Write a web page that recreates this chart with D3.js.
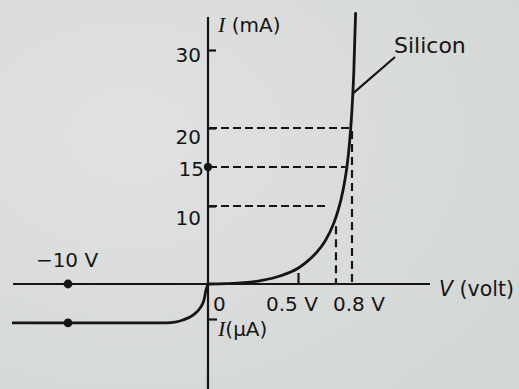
<!DOCTYPE html>
<html>
<head>
<meta charset="utf-8">
<script src="https://cdn.jsdelivr.net/npm/d3@7"></script>
<style>
  html, body { margin: 0; padding: 0; }
  body { width: 519px; height: 389px; overflow: hidden; }
  svg { display: block; }
  text { font-family: "DejaVu Sans", "Liberation Sans", Arial, sans-serif; fill: #151515; }
</style>
</head>
<body>
<svg id="chart" width="519" height="389"></svg>
<script>
// Forward characteristic of a silicon p-n junction diode (V in volts, I in mA)
const forwardVolts = [0, 0.1, 0.2, 0.3, 0.4, 0.5, 0.55, 0.6, 0.65, 0.7, 0.72, 0.74, 0.76, 0.77, 0.78, 0.79, 0.8, 0.81, 0.82];
const forwardCurrent = [0, 0.05, 0.17, 0.47, 1.02, 2.02, 2.87, 3.97, 5.47, 7.87, 9.23, 10.93, 13.23, 14.73, 16.63, 19.13, 22.43, 27.2, 34.7];

// Reverse characteristic (V in volts, I in microamps)
const reverseVolts = [-14, -2.93, -2.36, -1.79, -1.07, -0.57, -0.29, -0.14, 0];
const reverseCurrent = [-1.11, -1.11, -1.09, -1.03, -0.89, -0.69, -0.46, -0.17, 0];

// Axis ticks and labels
const currentTicks = [10, 20, 30];
const markedCurrent = 15;
const voltTicks = [0.5];
const voltLabels = [{ v: 0, text: "0" }, { v: 0.5, text: "0.5 V" }, { v: 0.8, text: "0.8 V" }];
const reverseTicks = [-1];
const reverseMarkVolt = -10;

// Dashed read-off guides: horizontal from the I axis, vertical down to the V axis
const hGuides = [{ i: 20, v: 0.8 }, { i: 15, v: 0.765 }, { i: 10, v: 0.667 }];
const vGuides = [{ v: 0.8, i: 20 }, { v: 0.711, i: 7.8 }];

// Curve name and the curve point its leader starts from
const curveName = "Silicon";
const leaderFrom = { v: 0.804, i: 24.4 };

const svg = d3.select("#chart");
const W = 519, H = 389;
const ink = "#151515";

// Paper background
const defs = svg.append("defs");
const grad = defs.append("radialGradient").attr("id", "paper")
  .attr("cx", "25%").attr("cy", "35%").attr("r", "85%");
grad.append("stop").attr("offset", "0%").attr("stop-color", "#e0e2e1");
grad.append("stop").attr("offset", "100%").attr("stop-color", "#d3d7d6");
svg.append("rect").attr("width", W).attr("height", H).attr("fill", "url(#paper)");

// Scales: forward quadrant in V / mA, reverse quadrant in V / µA
const x0 = 208, y0 = 284;
const xPos = d3.scaleLinear().domain([0, 1]).range([x0, x0 + 180]);
const xNeg = d3.scaleLinear().domain([-14, 0]).range([12, x0]);
const yPos = d3.scaleLinear().domain([0, 30]).range([y0, 50]);
const yNeg = d3.scaleLinear().domain([-1, 0]).range([319, y0]);

// Axis lines
svg.append("line").attr("x1", x0).attr("x2", x0).attr("y1", 17).attr("y2", H)
  .attr("stroke", ink).attr("stroke-width", 2.2);
svg.append("line").attr("x1", 13).attr("x2", 430).attr("y1", y0).attr("y2", y0)
  .attr("stroke", ink).attr("stroke-width", 2.2);

// Current axis ticks (pointing right) with labels on the left
const labelDrop = { 10: 11.5, 15: 1.5, 20: 8, 30: 4.5 };
const yAxis = d3.axisLeft(yPos).tickValues(currentTicks).tickSize(-8).tickPadding(7)
  .tickFormat(d3.format("d"));
const gy = svg.append("g").attr("transform", `translate(${x0},0)`).call(yAxis);
gy.select(".domain").remove();
gy.selectAll(".tick line").attr("stroke", ink).attr("stroke-width", 2.2);
gy.selectAll(".tick text").attr("font-size", 20).attr("dy", null)
  .attr("y", d => labelDrop[d] + 7.3)
  .attr("font-family", "DejaVu Sans, Liberation Sans, Arial, sans-serif").attr("fill", ink);

// Marked current value on the axis
svg.append("text").attr("x", x0 - 4).attr("y", yPos(markedCurrent) + labelDrop[markedCurrent] + 7.3)
  .attr("text-anchor", "end").attr("font-size", 20).text(markedCurrent);
svg.append("circle").attr("cx", x0).attr("cy", yPos(markedCurrent)).attr("r", 4.2).attr("fill", ink);

// Voltage axis ticks (pointing up)
const xAxis = d3.axisTop(xPos).tickValues(voltTicks).tickSize(11).tickFormat("");
const gx = svg.append("g").attr("transform", `translate(0,${y0})`).call(xAxis);
gx.select(".domain").remove();
gx.selectAll(".tick line").attr("stroke", ink).attr("stroke-width", 2.2);

const voltLabelShift = { 0: 5, 0.5: -32, 0.8: -19 };
svg.selectAll("text.vlab").data(voltLabels).join("text").attr("class", "vlab")
  .attr("x", d => xPos(d.v) + voltLabelShift[d.v])
  .attr("y", 311).attr("font-size", 20).text(d => d.text);

// Reverse current tick (below the origin)
const gr = svg.append("g").attr("transform", `translate(${x0},0)`)
  .call(d3.axisRight(yNeg).tickValues(reverseTicks).tickSize(9).tickFormat(""));
gr.select(".domain").remove();
gr.selectAll(".tick line").attr("stroke", ink).attr("stroke-width", 2.2);

// Dashed guides
svg.selectAll("line.hguide").data(hGuides).join("line").attr("class", "hguide")
  .attr("x1", x0 + 1).attr("x2", d => xPos(d.v))
  .attr("y1", d => yPos(d.i)).attr("y2", d => yPos(d.i))
  .attr("stroke", ink).attr("stroke-width", 2.2).attr("stroke-dasharray", "8,4");
svg.selectAll("line.vguide").data(vGuides).join("line").attr("class", "vguide")
  .attr("x1", d => xPos(d.v)).attr("x2", d => xPos(d.v))
  .attr("y1", d => yPos(d.i) + 3).attr("y2", y0)
  .attr("stroke", ink).attr("stroke-width", 2.2).attr("stroke-dasharray", "8,5");

// Characteristic curves
const fwd = forwardVolts.map((v, k) => [xPos(v), yPos(forwardCurrent[k])]);
const rev = reverseVolts.map((v, k) => [xNeg(v), yNeg(reverseCurrent[k])]);
const line = d3.line().curve(d3.curveMonotoneX);
svg.append("path").attr("d", line(fwd)).attr("fill", "none")
  .attr("stroke", ink).attr("stroke-width", 2.8).attr("stroke-linecap", "round");
svg.append("path").attr("d", line(rev)).attr("fill", "none")
  .attr("stroke", ink).attr("stroke-width", 2.8);

// Points at -10 V on the axis and on the reverse curve
const revSat = reverseCurrent[0];
svg.append("circle").attr("cx", xNeg(reverseMarkVolt)).attr("cy", y0).attr("r", 4.4).attr("fill", ink);
svg.append("circle").attr("cx", xNeg(reverseMarkVolt)).attr("cy", yNeg(revSat)).attr("r", 4.4).attr("fill", ink);
svg.append("text").attr("x", xNeg(reverseMarkVolt) - 1).attr("y", 267)
  .attr("text-anchor", "middle").attr("font-size", 20).text("\u221210 V");

// Axis titles
const yTitle = svg.append("text").attr("x", 218).attr("y", 32).attr("font-size", 20);
yTitle.append("tspan").attr("font-family", "Liberation Serif, Times New Roman, serif")
  .attr("font-style", "italic").attr("font-size", 22).text("I");
yTitle.append("tspan").text(" (mA)");

const xTitle = svg.append("text").attr("x", 439).attr("y", 296).attr("font-size", 20.5);
xTitle.append("tspan").attr("font-style", "italic").text("V");
xTitle.append("tspan").text(" (volt)");

const rTitle = svg.append("text").attr("x", 218).attr("y", 336).attr("font-size", 20);
rTitle.append("tspan").attr("font-family", "Liberation Serif, Times New Roman, serif")
  .attr("font-style", "italic").attr("font-size", 22).text("I");
rTitle.append("tspan").text("(\u00b5A)");

// Curve name with leader
svg.append("line").attr("x1", xPos(leaderFrom.v)).attr("y1", yPos(leaderFrom.i))
  .attr("x2", 395).attr("y2", 57).attr("stroke", ink).attr("stroke-width", 2.2);
svg.append("text").attr("x", 394).attr("y", 53).attr("font-size", 22).text(curveName);
</script>
</body>
</html>
